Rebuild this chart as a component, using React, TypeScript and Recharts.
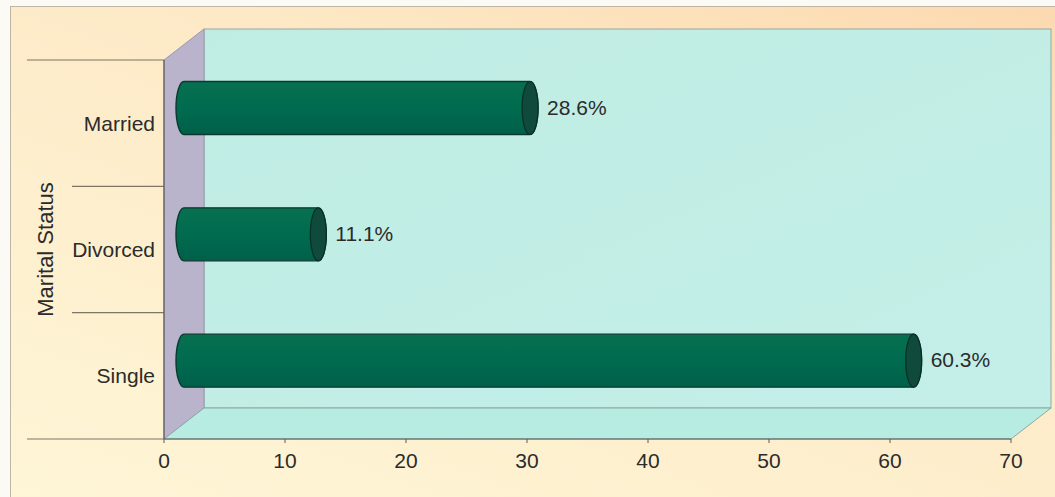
import React from "react";
import {
  BarChart,
  Bar,
  XAxis,
  YAxis,
  ReferenceArea,
} from "recharts";

const categories = ["Married", "Divorced", "Single"];
const percentages = [28.6, 11.1, 60.3];
const xTicks = [0, 10, 20, 30, 40, 50, 60, 70];

const data = categories.map((name, i) => ({ name, value: percentages[i] }));

// 3D depth offset of the back wall (px)
const DX = 40;
const DY = -31;
const FONT = "'Liberation Sans', Arial, Helvetica, sans-serif";
const TEXT = "#2b2b2b";

function Walls(props: any) {
  const { x, y, width, height } = props;
  const b = y + height;
  const band = height / categories.length;
  return (
    <g>
      {/* back wall */}
      <rect
        x={x + DX}
        y={y + DY}
        width={width}
        height={height}
        fill="url(#wallGrad)"
        stroke="#9aa6a2"
        strokeWidth={1}
      />
      {/* side wall */}
      <polygon
        points={`${x},${y} ${x + DX},${y + DY} ${x + DX},${b + DY} ${x},${b}`}
        fill="#b9b4cb"
        stroke="#9c98ab"
        strokeWidth={1}
      />
      {/* floor */}
      <polygon
        points={`${x},${b} ${x + DX},${b + DY} ${x + width + DX},${b + DY} ${x + width},${b}`}
        fill="#b6ece1"
        stroke="#8fa7a1"
        strokeWidth={1}
      />
      {/* category separators */}
      {categories.map((_, i) => (
        <line
          key={i}
          x1={i === 0 ? 27 : 72}
          x2={x}
          y1={y + band * i}
          y2={y + band * i}
          stroke="#7d7565"
          strokeWidth={1.2}
        />
      ))}
      <line x1={27} x2={x} y1={b} y2={b} stroke="#7d7565" strokeWidth={1.2} />
    </g>
  );
}

function Cylinder(props: any) {
  const { x, y, width, height, payload } = props;
  const rx = 8;
  const ry = height / 2;
  const x0 = x + DX / 2;
  const x1 = x + width + DX / 2;
  const top = y + DY / 2;
  const bot = top + height;
  const cy = top + ry;
  const d = `M ${x0} ${top} L ${x1} ${top} A ${rx} ${ry} 0 0 1 ${x1} ${bot} L ${x0} ${bot} A ${rx} ${ry} 0 0 1 ${x0} ${top} Z`;
  return (
    <g>
      <path d={d} fill="url(#cylGrad)" stroke="#0a3a2e" strokeWidth={1.4} />
      <ellipse cx={x1} cy={cy} rx={rx} ry={ry} fill="#0f4a3d" stroke="#082f26" strokeWidth={1.2} />
      <text
        x={x1 + rx + 9}
        y={cy - 1}
        dominantBaseline="central"
        fontFamily={FONT}
        fontSize={21}
        fill={TEXT}
      >
        {`${payload.value.toFixed(1)}%`}
      </text>
    </g>
  );
}

function YTitle(props: any) {
  const vb = props.viewBox || {};
  const cx = 45;
  const cy = (vb.y ?? 60) + (vb.height ?? 379) / 2;
  return (
    <text
      x={cx}
      y={cy}
      transform={`rotate(-90 ${cx} ${cy})`}
      textAnchor="middle"
      dominantBaseline="central"
      fontFamily={FONT}
      fontSize={22}
      fill={TEXT}
    >
      Marital Status
    </text>
  );
}

export default function App() {
  return (
    <div
      style={{
        position: "absolute",
        left: 0,
        top: 0,
        width: 1055,
        height: 497,
        overflow: "hidden",
        background: "#fbfaf5",
      }}
    >
      <div
        style={{
          position: "absolute",
          left: 10,
          top: 6,
          width: 1050,
          height: 494,
          border: "1px solid #bdb6a6",
          background: "linear-gradient(200deg, #fcd9b0 0%, #fde9c6 35%, #fef6d7 100%)",
        }}
      />
      <div style={{ position: "absolute", left: 0, top: 0 }}>
        <BarChart
          width={1055}
          height={497}
          data={data}
          layout="vertical"
          margin={{ top: 60, right: 44, bottom: 28, left: 34 }}
        >
          <defs>
            <linearGradient id="wallGrad" x1="0" y1="0" x2="1" y2="1">
              <stop offset="0%" stopColor="#bfece3" />
              <stop offset="100%" stopColor="#c3efe8" />
            </linearGradient>
            <linearGradient id="cylGrad" x1="0" y1="0" x2="0" y2="1">
              <stop offset="0%" stopColor="#07704f" />
              <stop offset="50%" stopColor="#006b4f" />
              <stop offset="100%" stopColor="#00604a" />
            </linearGradient>
          </defs>
          <ReferenceArea x1={0} x2={70} shape={<Walls />} ifOverflow="visible" />
          <XAxis
            type="number"
            domain={[0, 70]}
            ticks={xTicks}
            interval={0}
            height={30}
            axisLine={{ stroke: "#5a5a5a", strokeWidth: 1.2 }}
            tickLine={{ stroke: "#5a5a5a" }}
            tickSize={4}
            tickMargin={10}
            tick={{ fontSize: 21, fill: TEXT, fontFamily: FONT }}
          />
          <YAxis
            type="category"
            dataKey="name"
            width={130}
            axisLine={{ stroke: "#5a5a5a", strokeWidth: 1.2 }}
            tickLine={false}
            tickSize={0}
            tickMargin={9}
            tick={{ fontSize: 21, fill: TEXT, fontFamily: FONT }}
            label={<YTitle />}
          />
          <Bar
            dataKey="value"
            barSize={53}
            shape={<Cylinder />}
            isAnimationActive={false}
          />
        </BarChart>
      </div>
    </div>
  );
}
